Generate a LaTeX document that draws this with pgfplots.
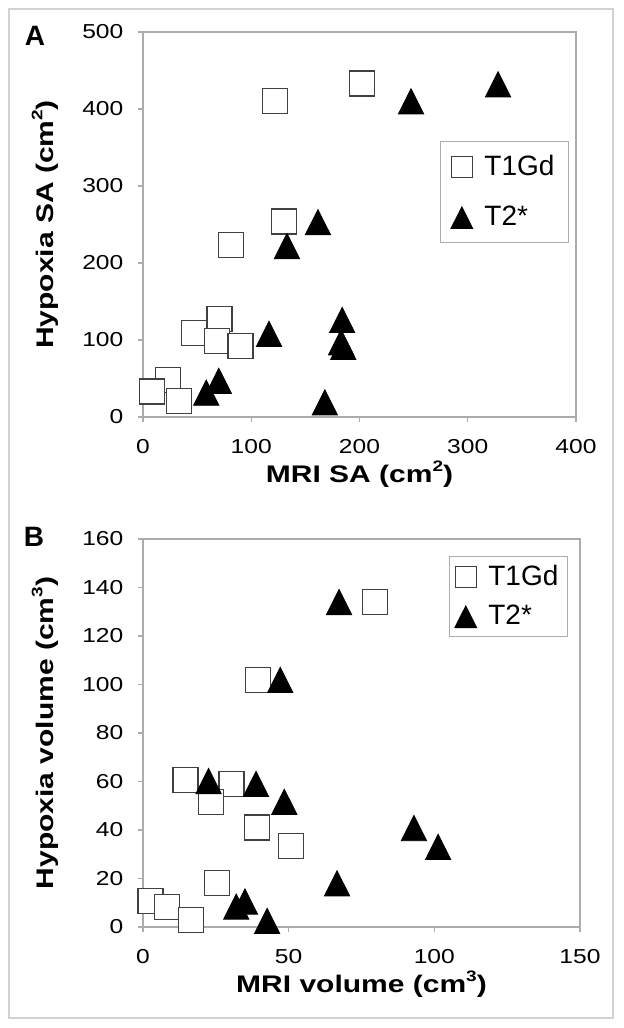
\documentclass[border=0pt]{standalone}
\usepackage{pgfplots}
\pgfplotsset{compat=1.18}
\usepackage{fontspec}
\setmainfont{Liberation Sans}
\newcommand\sups[1]{\raisebox{0.45em}{\fontsize{9.5}{10}\selectfont #1}}
\begin{document}
\begin{tikzpicture}[x=1pt,y=1pt]
\path[use as bounding box] (0pt,0pt) rectangle (312pt,514pt);
\draw[gray!35, line width=1pt] (4.5pt,5pt) rectangle (306.5pt,509.5pt);
\pgfplotsset{
 myax/.style={
  scale only axis, clip=false,
  axis line style={gray!65, line width=0.6pt},
  tick style={gray!65, line width=0.6pt}, tick align=outside, major tick length=2.5pt,
  xtick pos=bottom, ytick pos=left,
  /pgf/number format/assume math mode=true,
  tick label style={font=\fontsize{12.3}{14}\selectfont, yscale=0.82},
  xticklabel style={yshift=-6.8pt}, yticklabel style={xshift=-3.8pt},
  label style={font=\bfseries\fontsize{15}{17}\selectfont, yscale=0.8},
  legend cell align=left,
  legend image code/.code={\path (-5.5pt,0pt) (9pt,0pt);\draw[##1, every mark/.append style={scale=0.84}] plot coordinates {(0pt,0pt)};},
 },
 sq/.style={only marks, mark=square*, mark size=6.25pt, mark options={fill=white, draw=black!75, line width=0.6pt}},
 tri/.style={only marks, mark=triangle*, mark size=7.3pt, mark options={yshift=-2.1pt, yscale=1.15, fill=black, draw=black}},
}
\begin{axis}[myax, at={(71.5pt,305.5pt)}, anchor=south west, width=216.5pt, height=192.5pt,
  xmin=0, xmax=400, ymin=0, ymax=500, xtick={0,100,...,400}, ytick={0,100,...,500},
  xlabel={MRI SA (cm\sups{2})}, ylabel={Hypoxia SA (cm\sups{2})},
  xlabel style={at={(axis description cs:0.5,-0.148)}, anchor=center},
  ylabel style={at={(axis description cs:-0.2263,0.5)}, anchor=center},
  legend style={at={(0.984,0.717)}, anchor=north east, draw=gray!65, line width=0.6pt,
    font=\fontsize{14}{16}\selectfont, inner xsep=5pt, inner ysep=5pt, row sep=9.5pt}]
\addplot[sq] coordinates {(122,410) (202,433) (130,254) (81,223) (70.7,127.7) (47,109.5) (68.5,99) (90,92) (23,48) (8,33) (33.5,21)};
\addlegendentry{T1Gd}
\addplot[tri] coordinates {(328,432) (247.6,410) (161.6,253) (133,222) (184,126) (116.4,108) (183,97) (185,91) (70,47) (58.4,31.6) (168,19)};
\addlegendentry{T2*}
\end{axis}
\begin{axis}[myax, at={(71.5pt,50.5pt)}, anchor=south west, width=218.5pt, height=194pt,
  xmin=0, xmax=150, ymin=0, ymax=160, xtick={0,50,100,150}, ytick={0,20,...,160},
  xlabel={MRI volume (cm\sups{3})}, ylabel={Hypoxia volume (cm\sups{3})},
  xlabel style={at={(axis description cs:0.5,-0.147)}, anchor=center},
  ylabel style={at={(axis description cs:-0.2243,0.5)}, anchor=center},
  legend style={at={(0.9725,0.956)}, anchor=north east, draw=gray!65, line width=0.6pt,
    font=\fontsize{14}{16}\selectfont, inner xsep=2.5pt, inner ysep=2.5pt, row sep=4pt}]
\addplot[sq] coordinates {(79.6,134) (39.4,102) (14.6,60.6) (30.4,59) (23.3,51.7) (39,41) (50.7,33.4) (25.5,18.3) (2.6,10.8) (8.3,8.4) (16.5,2.9)};
\addlegendentry{T1Gd}
\addplot[tri] coordinates {(67.3,134) (47.1,101.9) (22.5,60.2) (38.8,59) (48.5,51.6) (93,40.8) (101.3,33) (66.6,18) (35,10.5) (32,8.4) (42.6,2.5)};
\addlegendentry{T2*}
\end{axis}
\node[font=\bfseries\fontsize{14}{16}\selectfont] at (17.5pt,496pt) {A};
\node[font=\bfseries\fontsize{14}{16}\selectfont] at (17pt,245.5pt) {B};
\end{tikzpicture}
\end{document}
